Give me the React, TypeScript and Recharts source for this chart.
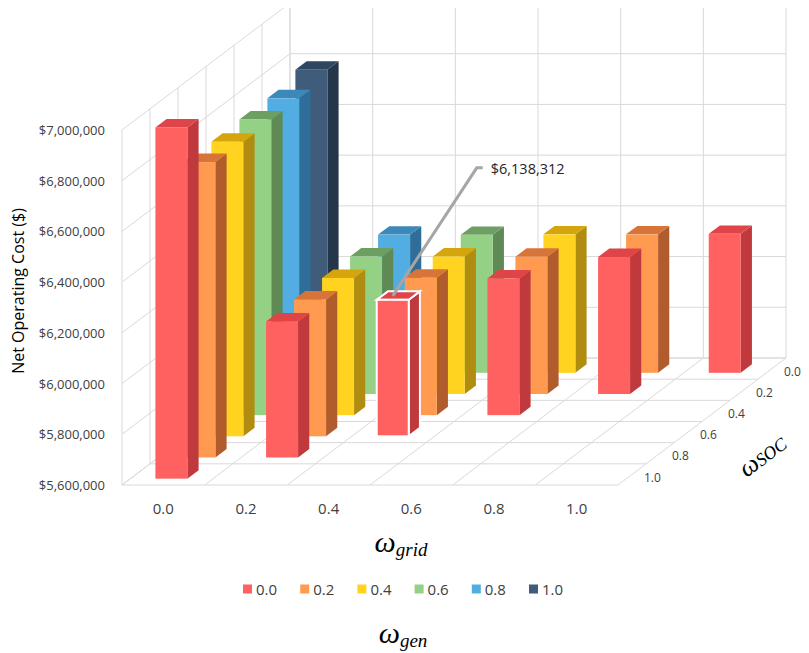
import { Bar, BarChart, Cell, XAxis, YAxis } from 'recharts';

// ω_grid categories (x axis)
const gridLabels = ['0.0', '0.2', '0.4', '0.6', '0.8', '1.0'];
// ω_SOC depth rows, back (0.0) to front (1.0)
const socLabels = ['0.0', '0.2', '0.4', '0.6', '0.8', '1.0'];
// ω_gen series (legend)
const genLabels = ['0.0', '0.2', '0.4', '0.6', '0.8', '1.0'];

// net operating cost per ω_gen, indexed by ω_grid (ω_SOC = 1 - ω_grid - ω_gen)
const costGen00 = [6985000, 6136000, 6138312, 6139000, 6140000, 6148000];
const costGen02 = [6765000, 6140000, 6142000, 6141000, 6146000];
const costGen04 = [6762000, 6141000, 6142000, 6146000];
const costGen06 = [6766000, 6142000, 6144000];
const costGen08 = [6766000, 6145000];
const costGen10 = [6795000];
const costByGen = [costGen00, costGen02, costGen04, costGen06, costGen08, costGen10];

const yTicks = [5600000, 5800000, 6000000, 6200000, 6400000, 6600000, 6800000, 7000000];
const Y_MIN = 5600000;
const Y_MAX = 7000000;

// front, top, side shades per ω_gen
const palette = [
  { front: '#FF6060', top: '#DE4448', side: '#C0393C' },
  { front: '#FF9A50', top: '#D7743A', side: '#B05C2C' },
  { front: '#FFD320', top: '#D4A50C', side: '#B08C10' },
  { front: '#95D185', top: '#6E9F62', side: '#5F8A55' },
  { front: '#52ADE3', top: '#3D88BA', side: '#2E6E98' },
  { front: '#3F5C7A', top: '#2E4660', side: '#243649' },
];

const rows = gridLabels.map((grid, gi) => {
  const row: Record<string, any> = { grid, gi };
  socLabels.forEach((_, si) => {
    const gen = 5 - gi - si;
    if (gen >= 0) row[`s${si}`] = costByGen[gen][gi];
  });
  return row;
});

const W = 792;
const H = 530;
const BOX_H = 645;
const PLOT_L = 114;
const PLOT_R = 610;
const PLOT_T = 122;
const PLOT_B = 477;
const DEPTH_DX = 168;
const DEPTH_DY = -127;
const SLOT_DX = DEPTH_DX / 6;
const SLOT_DY = DEPTH_DY / 6;
const GRID = '#d9d9d9';
const FONT = '"Open Sans", sans-serif';
const MATH = '"Liberation Serif", serif';

const fmtMoney = (v: number) => `$${v.toLocaleString('en-US')}`;
const yOf = (v: number) => PLOT_B - ((v - Y_MIN) / (Y_MAX - Y_MIN)) * (PLOT_B - PLOT_T);

function renderBox(props: any, si: number) {
  const { x, y, width, height, payload } = props;
  const v = payload[`s${si}`];
  if (v == null || !height) return <g />;
  const gen = 5 - payload.gi - si;
  const k = 5 - si;
  const c = palette[gen];
  const bx = x + SLOT_DX * (k + 0.3);
  const by = y + SLOT_DY * (k + 0.3);
  const dx = SLOT_DX * 0.4;
  const dy = SLOT_DY * 0.4;
  const w = width;
  const h = height;
  const hl = gen === 0 && payload.gi === 2;
  const stroke = hl ? '#ffffff' : 'none';
  const sw = hl ? 2 : 0;
  const sx = bx + w / 2;
  const sy = by - 4;
  return (
    <g>
      <polygon
        points={`${bx + w},${by} ${bx + w + dx},${by + dy} ${bx + w + dx},${by + h + dy} ${bx + w},${by + h}`}
        fill={c.side}
        stroke={stroke}
        strokeWidth={sw}
      />
      <polygon
        points={`${bx},${by} ${bx + dx},${by + dy} ${bx + w + dx},${by + dy} ${bx + w},${by}`}
        fill={c.top}
        stroke={stroke}
        strokeWidth={sw}
      />
      <rect x={bx} y={by} width={w} height={h} fill={c.front} stroke={stroke} strokeWidth={sw} />
      {hl && (
        <g>
          <polyline
            points={`${sx},${sy} ${sx + 84},${sy - 128} ${sx + 90},${sy - 128}`}
            fill="none"
            stroke="#a6a6a6"
            strokeWidth={3}
          />
          <text
            x={sx + 98}
            y={sy - 127}
            dominantBaseline="central"
            fontFamily={FONT}
            fontSize={14.5}
            fill="#262626"
          >
            {fmtMoney(v)}
          </text>
        </g>
      )}
    </g>
  );
}

function Frame() {
  const bw = (PLOT_R - PLOT_L) / gridLabels.length;
  const lines: any[] = [];
  yTicks.forEach((t) => {
    const yy = yOf(t);
    lines.push([PLOT_L, yy, PLOT_L + DEPTH_DX, yy + DEPTH_DY]);
    lines.push([PLOT_L + DEPTH_DX, yy + DEPTH_DY, PLOT_R + DEPTH_DX, yy + DEPTH_DY]);
  });
  for (let k = 0; k <= 6; k++) {
    const ox = SLOT_DX * k;
    const oy = SLOT_DY * k;
    lines.push([PLOT_L + ox, PLOT_B + oy, PLOT_L + ox, PLOT_T + oy]);
    lines.push([PLOT_L + ox, PLOT_B + oy, PLOT_R + ox, PLOT_B + oy]);
  }
  for (let c = 0; c <= 6; c++) {
    const xx = PLOT_L + c * bw;
    lines.push([xx + DEPTH_DX, PLOT_T + DEPTH_DY, xx + DEPTH_DX, PLOT_B + DEPTH_DY]);
    lines.push([xx, PLOT_B, xx + DEPTH_DX, PLOT_B + DEPTH_DY]);
  }
  return (
    <svg
      width={W}
      height={BOX_H}
      style={{ position: 'absolute', left: 0, top: 0, overflow: 'visible' }}
    >
      {lines.map((l, i) => (
        <line key={i} x1={l[0]} y1={l[1]} x2={l[2]} y2={l[3]} stroke={GRID} strokeWidth={1} />
      ))}
      {socLabels.map((s, si) => {
        const j = 5 - si;
        return (
          <text
            key={s}
            x={PLOT_R + SLOT_DX * (j + 0.5) + 12}
            y={PLOT_B + SLOT_DY * (j + 0.5) + 2.6}
            dominantBaseline="central"
            fontFamily={FONT}
            fontSize={12}
            fill="#404040"
          >
            {s}
          </text>
        );
      })}
      <text
        transform="translate(754,447) rotate(-37)"
        textAnchor="middle"
        dominantBaseline="central"
        fontFamily={MATH}
        fill="#000"
      >
        <tspan fontSize={26} fontStyle="italic">ω</tspan>
        <tspan fontSize={18} dy={3} fontStyle="italic">SOC</tspan>
      </text>
      <text
        transform="translate(10,283) rotate(-90)"
        textAnchor="middle"
        dominantBaseline="central"
        fontFamily={FONT}
        fontSize={16}
        fill="#000"
      >
        Net Operating Cost ($)
      </text>
      <text x={393} y={544} textAnchor="middle" fontFamily={MATH} fontStyle="italic" fill="#000">
        <tspan fontSize={30}>ω</tspan>
        <tspan fontSize={19} dy={4}>grid</tspan>
      </text>
      {genLabels.map((g, i) => (
        <g key={g}>
          <rect x={235 + 57.2 * i} y={576.5} width={9} height={9} fill={palette[i].front} />
          <text
            x={248 + 57.2 * i}
            y={581}
            dominantBaseline="central"
            fontFamily={FONT}
            fontSize={15}
            fill="#404040"
          >
            {g}
          </text>
        </g>
      ))}
      <text x={395} y={635} textAnchor="middle" fontFamily={MATH} fontStyle="italic" fill="#000">
        <tspan fontSize={30}>ω</tspan>
        <tspan fontSize={19} dy={4}>gen</tspan>
      </text>
    </svg>
  );
}

const YTick = (props: any) => (
  <text
    x={PLOT_L - 17}
    y={props.y}
    textAnchor="end"
    dominantBaseline="central"
    fontFamily={FONT}
    fontSize={13}
    fill="#404040"
  >
    {fmtMoney(props.payload.value)}
  </text>
);

const XTick = (props: any) => (
  <text
    x={props.x}
    y={500}
    textAnchor="middle"
    dominantBaseline="central"
    fontFamily={FONT}
    fontSize={15}
    fill="#404040"
  >
    {props.payload.value}
  </text>
);

export default function App() {
  return (
    <div style={{ position: 'relative', width: W, height: BOX_H }}>
      <Frame />
      <div style={{ position: 'absolute', left: 0, top: 0 }}>
        <BarChart
          width={W}
          height={H}
          data={rows}
          margin={{ top: PLOT_T, right: W - PLOT_R, bottom: H - PLOT_B - 30, left: PLOT_L - 100 }}
          barSize={32}
          barGap={-32}
        >
          <XAxis dataKey="grid" height={30} axisLine={false} tickLine={false} tick={<XTick />} />
          <YAxis
            width={100}
            domain={[Y_MIN, Y_MAX]}
            ticks={yTicks}
            axisLine={false}
            tickLine={false}
            tick={<YTick />}
          />
          {socLabels.map((s, si) => (
            <Bar
              key={s}
              dataKey={`s${si}`}
              isAnimationActive={false}
              shape={(p: any) => renderBox(p, si)}
            >
              {rows.map((r) => {
                const gen = 5 - r.gi - si;
                return <Cell key={r.grid} fill={gen >= 0 ? palette[gen].front : 'none'} />;
              })}
            </Bar>
          ))}
        </BarChart>
      </div>
    </div>
  );
}
